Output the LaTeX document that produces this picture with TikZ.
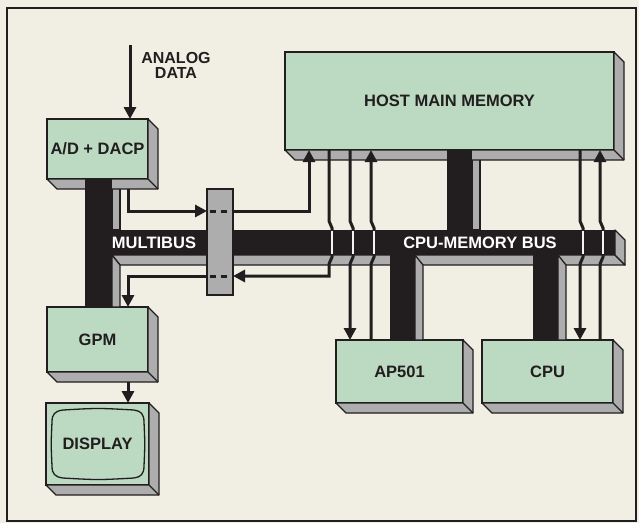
\documentclass[tikz,border=0pt]{standalone}
\usepackage{fontspec}
\setmainfont{Liberation Sans}
\usetikzlibrary{arrows.meta}
\definecolor{bgc}{HTML}{F1EEE4}
\definecolor{facegreen}{HTML}{BCD9C1}
\definecolor{sidegray}{HTML}{ADADAD}
\definecolor{inkc}{HTML}{221E1F}
\newcommand{\mkside}[1]{%
  \path[side] (#1.north east) -- ++(10,10) -- ([shift={(10,10)}]#1.south east)
    -- ([shift={(10,10)}]#1.south west) -- (#1.south west) -- (#1.south east) -- cycle;
  \draw[side,fill=none] (#1.south east) -- ++(10,10);}
\begin{document}
\begin{tikzpicture}[x=1pt,y=-1pt,
  face/.style={draw=inkc,line width=1.4pt,fill=facegreen,inner sep=0pt,outer sep=0pt,
    anchor=north west,font=\bfseries\fontsize{16.5}{18}\selectfont,text=inkc},
  side/.style={draw=inkc,line width=1.3pt,fill=sidegray,line join=round},
  barfill/.style={fill=inkc},
  wire/.style={draw=inkc,line width=3pt},
  arr/.style={-{Triangle[length=12pt,width=12pt]}},
  dashw/.style={draw=inkc,line width=3pt,dash pattern=on 6pt off 5pt},
  buswire/.style={draw=white!90!gray,line width=1.2pt},
  buslbl/.style={text=white,font=\bfseries\fontsize{16.5}{18}\selectfont,inner sep=0pt},
  plainlbl/.style={text=inkc,font=\bfseries\fontsize{16}{15}\selectfont,inner sep=0pt,align=center},
  bridgebox/.style={draw=inkc,line width=1.4pt,fill=sidegray,inner sep=0pt,outer sep=0pt,anchor=north west}]
\useasboundingbox (0,0) rectangle (639,523);
\fill[bgc] (0,0) rectangle (639,523);
\draw[inkc,line width=1.6pt] (7,8) rectangle (636,521);

% side strips above the bus
\path[side] (112,185) -- (120,185) -- (120,230) -- (112,230) -- cycle;
\path[side] (472,152) -- (480,152) -- (480,230) -- (472,230) -- cycle;

% boxes
\node[face,minimum width=101pt,minimum height=60pt] (ad) at (47,119) {A/D + DACP};
\node[face,minimum width=329pt,minimum height=98pt] (host) at (285,52) {HOST MAIN MEMORY};
\node[face,minimum width=101pt,minimum height=65pt] (gpm) at (47,307) {GPM};
\node[face,minimum width=103pt,minimum height=82pt] (disp) at (46,403) {};
\node[face,minimum width=127pt,minimum height=63pt] (ap) at (336,340) {AP501};
\node[face,minimum width=131pt,minimum height=63pt] (cpu) at (482,340) {CPU};
\mkside{ad}\mkside{host}\mkside{gpm}\mkside{disp}\mkside{ap}\mkside{cpu}

% display screen
\draw[inkc,line width=1.3pt] (63,410) .. controls (98,408) and (98,408) .. (134,410)
  .. controls (141,411) and (144,414) .. (144,422)
  .. controls (145,444) and (145,444) .. (144,466)
  .. controls (144,474) and (141,477) .. (134,478)
  .. controls (98,480) and (98,480) .. (63,478)
  .. controls (55,477) and (52,474) .. (52,466)
  .. controls (51,444) and (51,444) .. (52,422)
  .. controls (52,414) and (55,411) .. (63,410) -- cycle;
\node[text=inkc,font=\bfseries\fontsize{16.5}{18}\selectfont,inner sep=0pt] (displbl) at (disp.center) {DISPLAY};

% bars above / through the bus
\fill[barfill] (85,179) rectangle (112,307);
\fill[barfill] (447,150) rectangle (472,230);

% bus
\fill[barfill] (85,230) rectangle (615,255);
\path[side] (112,255) -- (615,255) -- (625,265) -- (120,265) -- cycle;
\path[side] (615,230) -- (625,240) -- (625,265) -- (615,255) -- cycle;

% strips and bars below the bus
\path[side] (112,255) -- (120,265) -- (120,307) -- (112,307) -- cycle;
\path[side] (415,255) -- (423,265) -- (423,340) -- (415,340) -- cycle;
\path[side] (558,255) -- (566,265) -- (566,340) -- (558,340) -- cycle;
\fill[barfill] (390,255) rectangle (415,340);
\fill[barfill] (533,255) rectangle (558,340);

% bridge
\node[bridgebox,minimum width=26pt,minimum height=106pt] (br) at (207,189) {};
\coordinate (ya) at (0,211);
\coordinate (yb) at (0,276);

% analog input
\coordinate (ain) at (130,45);
\draw[wire,arr] (ain) -- (ain |- ad.north);
\node[plainlbl] (analog) at (176,65) {ANALOG\\DATA};

% A/D -> bridge -> host
\draw[wire,arr] ([shift={(-20,10)}]ad.south east) |- (br.west |- ya);
\draw[dashw] (210,211) -- (232,211);
\draw[wire,arr] (br.east |- ya) -| ([xshift=24pt]host.south west);

% host -> bridge -> GPM
\draw[wire,arr] ([xshift=44pt]host.south west) -- (329,221) -- (332,228) -- (332,257)
  -- (329,264) -- (329,276) -- (br.east |- yb);
\draw[dashw] (210,276) -- (232,276);
\draw[wire,arr] (br.west |- yb) -| ([xshift=-20pt]gpm.north east);

% host <-> AP501
\draw[wire,arr] ([xshift=65pt]host.south west) -- (350,221) -- (353,228) -- (353,257)
  -- (350,264) -- ([xshift=14pt]ap.north west);
\draw[wire,arr] ([xshift=35pt]ap.north west) -- (371,264) -- (374,257) -- (374,228)
  -- (371,221) -- ([xshift=86pt]host.south west);

% host <-> CPU
\draw[wire,arr] ([xshift=295pt]host.south west) -- (580,221) -- (583,228) -- (583,257)
  -- (580,264) -- ([xshift=98pt]cpu.north west);
\draw[wire,arr] ([xshift=118pt]cpu.north west) -- (600,264) -- (603,257) -- (603,228)
  -- (600,221) -- ([xshift=315pt]host.south west);

% GPM -> display
\draw[wire,arr] ([shift={(-20,10)}]gpm.south east) -- ([xshift=-21pt]disp.north east);

% wires seen through the bus
\foreach \wx in {332,353,374,583,603} \draw[buswire] (\wx,231) -- (\wx,254);

% bus labels
\node[buslbl] (mb) at (154,243) {MULTIBUS};
\node[buslbl] (cmb) at (480,243) {CPU-MEMORY BUS};
\end{tikzpicture}
\end{document}
